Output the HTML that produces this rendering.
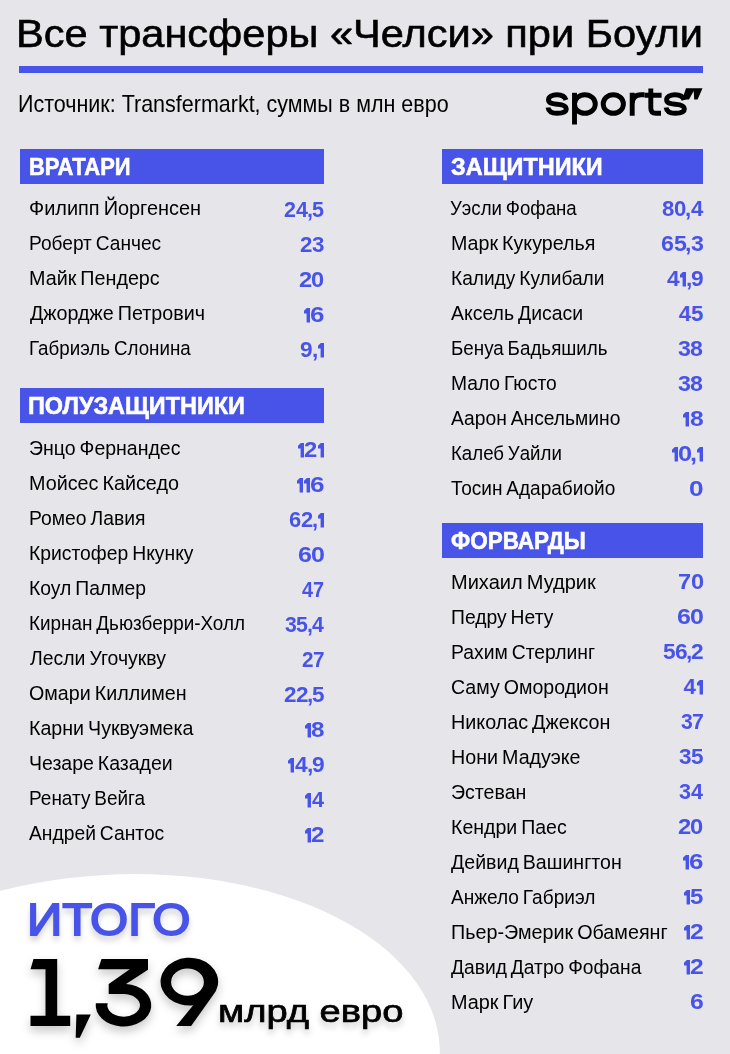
<!DOCTYPE html>
<html><head><meta charset="utf-8"><style>
html,body{margin:0;padding:0;background:#e5e5ea;}
body{width:730px;height:1054px;position:relative;overflow:hidden;background:#e5e5ea;font-family:"Liberation Sans",sans-serif;}
.t{position:absolute;white-space:nowrap;line-height:1;transform-origin:0 0;}
.o{position:absolute;}
</style></head><body>
<svg style="position:absolute;left:0;top:0" width="730" height="1054"><ellipse cx="0" cy="0" rx="327.3" ry="191" fill="#fff" transform="translate(112.9,1065.8) rotate(-3.48)"/></svg>
<div class="t" style="left:15.95px;top:14.60px;font-size:38.5px;font-weight:400;color:#000;transform:scaleX(1.0793);-webkit-text-stroke:0.6px #000;">Все трансферы «Челси» при Боули</div>
<div style="position:absolute;left:19px;top:66px;width:684px;height:7px;background:#4854e8"></div>
<div class="t" style="left:18.21px;top:91.68px;font-size:24px;font-weight:400;color:#000;transform:scaleX(0.8954);">Источник: Transfermarkt, суммы в млн евро</div>
<div style="position:absolute;left:20px;top:149px;width:304px;height:35px;background:#4854e8"></div>
<div class="t" style="left:29.04px;top:154.68px;font-size:24px;font-weight:700;color:#fff;transform:scaleX(0.9148);-webkit-text-stroke:0.6px #fff;">ВРАТАРИ</div>
<div style="position:absolute;left:20px;top:388px;width:304px;height:35px;background:#4854e8"></div>
<div class="t" style="left:28.44px;top:393.68px;font-size:24px;font-weight:700;color:#fff;transform:scaleX(0.9754);-webkit-text-stroke:0.6px #fff;">ПОЛУЗАЩИТНИКИ</div>
<div style="position:absolute;left:442px;top:149px;width:261px;height:35px;background:#4854e8"></div>
<div class="t" style="left:450.51px;top:154.68px;font-size:24px;font-weight:700;color:#fff;transform:scaleX(0.9771);-webkit-text-stroke:0.6px #fff;">ЗАЩИТНИКИ</div>
<div style="position:absolute;left:442px;top:523px;width:261px;height:35px;background:#4854e8"></div>
<div class="t" style="left:451.05px;top:528.68px;font-size:24px;font-weight:700;color:#fff;transform:scaleX(0.9370);-webkit-text-stroke:0.6px #fff;">ФОРВАРДЫ</div>
<div class="t" style="left:28.53px;top:197.69px;font-size:20.5px;font-weight:400;color:#000;transform:scaleX(0.9713);word-spacing:-1.5px;">Филипп Йоргенсен</div>
<div class="t" style="left:284.22px;top:199.07px;font-size:22px;font-weight:700;color:#4854e8;transform:scaleX(0.9753);">2</div>
<div class="t" style="left:296.05px;top:199.07px;font-size:22px;font-weight:700;color:#4854e8;transform:scaleX(0.9753);">4</div>
<div class="t" style="left:307.38px;top:199.07px;font-size:22px;font-weight:700;color:#4854e8;transform:scaleX(0.9753);">,</div>
<div class="t" style="left:312.29px;top:199.07px;font-size:22px;font-weight:700;color:#4854e8;transform:scaleX(0.9753);">5</div>
<div class="t" style="left:28.81px;top:232.69px;font-size:20.5px;font-weight:400;color:#000;transform:scaleX(0.9326);word-spacing:-1.5px;">Роберт Санчес</div>
<div class="t" style="left:299.99px;top:234.07px;font-size:22px;font-weight:700;color:#4854e8;transform:scaleX(1.0140);">2</div>
<div class="t" style="left:312.04px;top:234.07px;font-size:22px;font-weight:700;color:#4854e8;transform:scaleX(1.0140);">3</div>
<div class="t" style="left:28.76px;top:267.69px;font-size:20.5px;font-weight:400;color:#000;transform:scaleX(0.9625);word-spacing:-1.5px;">Майк Пендерс</div>
<div class="t" style="left:299.14px;top:269.07px;font-size:22px;font-weight:700;color:#4854e8;transform:scaleX(1.0762);">2</div>
<div class="t" style="left:311.44px;top:269.07px;font-size:22px;font-weight:700;color:#4854e8;transform:scaleX(1.0762);">0</div>
<div class="t" style="left:29.50px;top:302.69px;font-size:20.5px;font-weight:400;color:#000;transform:scaleX(0.9623);word-spacing:-1.5px;">Джордже Петрович</div>
<svg class="o" style="left:304.00px;top:308.10px" width="6.1" height="14.6" viewBox="0 0 6.1 14.6"><path d="M0 2.8L2.8 0H6.1V14.6H2.6V5.6H0Z" fill="#4854e8"/></svg>
<div class="t" style="left:310.16px;top:304.07px;font-size:22px;font-weight:700;color:#4854e8;transform:scaleX(1.1792);">6</div>
<div class="t" style="left:28.84px;top:337.69px;font-size:20.5px;font-weight:400;color:#000;transform:scaleX(0.9154);word-spacing:-1.5px;">Габриэль Слонина</div>
<div class="t" style="left:300.48px;top:339.07px;font-size:22px;font-weight:700;color:#4854e8;transform:scaleX(1.0290);">9</div>
<div class="t" style="left:311.66px;top:339.07px;font-size:22px;font-weight:700;color:#4854e8;transform:scaleX(1.0290);">,</div>
<svg class="o" style="left:317.50px;top:343.10px" width="6.1" height="14.6" viewBox="0 0 6.1 14.6"><path d="M0 2.8L2.8 0H6.1V14.6H2.6V5.6H0Z" fill="#4854e8"/></svg>
<div class="t" style="left:29.05px;top:437.69px;font-size:20.5px;font-weight:400;color:#000;transform:scaleX(0.9511);word-spacing:-1.5px;">Энцо Фернандес</div>
<svg class="o" style="left:297.90px;top:443.10px" width="6.1" height="14.6" viewBox="0 0 6.1 14.6"><path d="M0 2.8L2.8 0H6.1V14.6H2.6V5.6H0Z" fill="#4854e8"/></svg>
<div class="t" style="left:304.13px;top:439.07px;font-size:22px;font-weight:700;color:#4854e8;transform:scaleX(1.0849);">2</div>
<svg class="o" style="left:317.50px;top:443.10px" width="6.1" height="14.6" viewBox="0 0 6.1 14.6"><path d="M0 2.8L2.8 0H6.1V14.6H2.6V5.6H0Z" fill="#4854e8"/></svg>
<div class="t" style="left:28.76px;top:472.69px;font-size:20.5px;font-weight:400;color:#000;transform:scaleX(0.9634);word-spacing:-1.5px;">Мойсес Кайседо</div>
<svg class="o" style="left:296.80px;top:478.10px" width="6.1" height="14.6" viewBox="0 0 6.1 14.6"><path d="M0 2.8L2.8 0H6.1V14.6H2.6V5.6H0Z" fill="#4854e8"/></svg>
<svg class="o" style="left:303.90px;top:478.10px" width="6.1" height="14.6" viewBox="0 0 6.1 14.6"><path d="M0 2.8L2.8 0H6.1V14.6H2.6V5.6H0Z" fill="#4854e8"/></svg>
<div class="t" style="left:310.05px;top:474.07px;font-size:22px;font-weight:700;color:#4854e8;transform:scaleX(1.1887);">6</div>
<div class="t" style="left:28.80px;top:507.69px;font-size:20.5px;font-weight:400;color:#000;transform:scaleX(0.9427);word-spacing:-1.5px;">Ромео Лавия</div>
<div class="t" style="left:289.40px;top:509.07px;font-size:22px;font-weight:700;color:#4854e8;transform:scaleX(0.9959);">6</div>
<div class="t" style="left:300.96px;top:509.07px;font-size:22px;font-weight:700;color:#4854e8;transform:scaleX(0.9959);">2</div>
<div class="t" style="left:311.82px;top:509.07px;font-size:22px;font-weight:700;color:#4854e8;transform:scaleX(0.9959);">,</div>
<svg class="o" style="left:317.50px;top:513.10px" width="6.1" height="14.6" viewBox="0 0 6.1 14.6"><path d="M0 2.8L2.8 0H6.1V14.6H2.6V5.6H0Z" fill="#4854e8"/></svg>
<div class="t" style="left:28.80px;top:542.69px;font-size:20.5px;font-weight:400;color:#000;transform:scaleX(0.9427);word-spacing:-1.5px;">Кристофер Нкунку</div>
<div class="t" style="left:297.79px;top:544.07px;font-size:22px;font-weight:700;color:#4854e8;transform:scaleX(1.1381);">6</div>
<div class="t" style="left:310.74px;top:544.07px;font-size:22px;font-weight:700;color:#4854e8;transform:scaleX(1.1381);">0</div>
<div class="t" style="left:28.80px;top:577.69px;font-size:20.5px;font-weight:400;color:#000;transform:scaleX(0.9424);word-spacing:-1.5px;">Коул Палмер</div>
<div class="t" style="left:302.33px;top:579.07px;font-size:22px;font-weight:700;color:#4854e8;transform:scaleX(0.9009);">4</div>
<div class="t" style="left:313.42px;top:579.07px;font-size:22px;font-weight:700;color:#4854e8;transform:scaleX(0.9009);">7</div>
<div class="t" style="left:28.83px;top:612.69px;font-size:20.5px;font-weight:400;color:#000;transform:scaleX(0.9213);word-spacing:-1.5px;">Кирнан Дьюзберри-Холл</div>
<div class="t" style="left:284.62px;top:614.07px;font-size:22px;font-weight:700;color:#4854e8;transform:scaleX(0.9647);">3</div>
<div class="t" style="left:295.94px;top:614.07px;font-size:22px;font-weight:700;color:#4854e8;transform:scaleX(0.9647);">5</div>
<div class="t" style="left:306.68px;top:614.07px;font-size:22px;font-weight:700;color:#4854e8;transform:scaleX(0.9647);">,</div>
<div class="t" style="left:311.93px;top:614.07px;font-size:22px;font-weight:700;color:#4854e8;transform:scaleX(0.9647);">4</div>
<div class="t" style="left:30.21px;top:647.69px;font-size:20.5px;font-weight:400;color:#000;transform:scaleX(0.9476);word-spacing:-1.5px;">Лесли Угочукву</div>
<div class="t" style="left:302.15px;top:649.07px;font-size:22px;font-weight:700;color:#4854e8;transform:scaleX(0.9381);">2</div>
<div class="t" style="left:313.00px;top:649.07px;font-size:22px;font-weight:700;color:#4854e8;transform:scaleX(0.9381);">7</div>
<div class="t" style="left:29.44px;top:682.69px;font-size:20.5px;font-weight:400;color:#000;transform:scaleX(0.9604);word-spacing:-1.5px;">Омари Киллимен</div>
<div class="t" style="left:283.78px;top:684.07px;font-size:22px;font-weight:700;color:#4854e8;transform:scaleX(1.0198);">2</div>
<div class="t" style="left:295.59px;top:684.07px;font-size:22px;font-weight:700;color:#4854e8;transform:scaleX(1.0198);">2</div>
<div class="t" style="left:306.69px;top:684.07px;font-size:22px;font-weight:700;color:#4854e8;transform:scaleX(1.0198);">,</div>
<div class="t" style="left:311.77px;top:684.07px;font-size:22px;font-weight:700;color:#4854e8;transform:scaleX(1.0198);">5</div>
<div class="t" style="left:28.77px;top:717.69px;font-size:20.5px;font-weight:400;color:#000;transform:scaleX(0.9571);word-spacing:-1.5px;">Карни Чуквуэмека</div>
<svg class="o" style="left:304.50px;top:723.10px" width="6.1" height="14.6" viewBox="0 0 6.1 14.6"><path d="M0 2.8L2.8 0H6.1V14.6H2.6V5.6H0Z" fill="#4854e8"/></svg>
<div class="t" style="left:310.83px;top:719.07px;font-size:22px;font-weight:700;color:#4854e8;transform:scaleX(1.1009);">8</div>
<div class="t" style="left:28.88px;top:752.69px;font-size:20.5px;font-weight:400;color:#000;transform:scaleX(0.9507);word-spacing:-1.5px;">Чезаре Казадеи</div>
<svg class="o" style="left:288.00px;top:758.10px" width="6.1" height="14.6" viewBox="0 0 6.1 14.6"><path d="M0 2.8L2.8 0H6.1V14.6H2.6V5.6H0Z" fill="#4854e8"/></svg>
<div class="t" style="left:294.79px;top:754.07px;font-size:22px;font-weight:700;color:#4854e8;transform:scaleX(1.0352);">4</div>
<div class="t" style="left:306.76px;top:754.07px;font-size:22px;font-weight:700;color:#4854e8;transform:scaleX(1.0352);">,</div>
<div class="t" style="left:311.80px;top:754.07px;font-size:22px;font-weight:700;color:#4854e8;transform:scaleX(1.0352);">9</div>
<div class="t" style="left:28.83px;top:787.69px;font-size:20.5px;font-weight:400;color:#000;transform:scaleX(0.9257);word-spacing:-1.5px;">Ренату Вейга</div>
<svg class="o" style="left:304.90px;top:793.10px" width="6.1" height="14.6" viewBox="0 0 6.1 14.6"><path d="M0 2.8L2.8 0H6.1V14.6H2.6V5.6H0Z" fill="#4854e8"/></svg>
<div class="t" style="left:311.71px;top:789.07px;font-size:22px;font-weight:700;color:#4854e8;transform:scaleX(0.9831);">4</div>
<div class="t" style="left:29.11px;top:822.69px;font-size:20.5px;font-weight:400;color:#000;transform:scaleX(0.9393);word-spacing:-1.5px;">Андрей Сантос</div>
<svg class="o" style="left:304.90px;top:828.10px" width="6.1" height="14.6" viewBox="0 0 6.1 14.6"><path d="M0 2.8L2.8 0H6.1V14.6H2.6V5.6H0Z" fill="#4854e8"/></svg>
<div class="t" style="left:311.12px;top:824.07px;font-size:22px;font-weight:700;color:#4854e8;transform:scaleX(1.0943);">2</div>
<div class="t" style="left:450.15px;top:197.69px;font-size:20.5px;font-weight:400;color:#000;transform:scaleX(0.9092);word-spacing:-1.5px;">Уэсли Фофана</div>
<div class="t" style="left:662.39px;top:198.07px;font-size:22px;font-weight:700;color:#4854e8;transform:scaleX(1.0083);">8</div>
<div class="t" style="left:674.18px;top:198.07px;font-size:22px;font-weight:700;color:#4854e8;transform:scaleX(1.0083);">0</div>
<div class="t" style="left:685.06px;top:198.07px;font-size:22px;font-weight:700;color:#4854e8;transform:scaleX(1.0083);">,</div>
<div class="t" style="left:690.50px;top:198.07px;font-size:22px;font-weight:700;color:#4854e8;transform:scaleX(1.0083);">4</div>
<div class="t" style="left:450.57px;top:232.69px;font-size:20.5px;font-weight:400;color:#000;transform:scaleX(0.9586);word-spacing:-1.5px;">Марк Кукурелья</div>
<div class="t" style="left:661.36px;top:233.07px;font-size:22px;font-weight:700;color:#4854e8;transform:scaleX(1.0534);">6</div>
<div class="t" style="left:673.63px;top:233.07px;font-size:22px;font-weight:700;color:#4854e8;transform:scaleX(1.0534);">5</div>
<div class="t" style="left:685.27px;top:233.07px;font-size:22px;font-weight:700;color:#4854e8;transform:scaleX(1.0534);">,</div>
<div class="t" style="left:690.69px;top:233.07px;font-size:22px;font-weight:700;color:#4854e8;transform:scaleX(1.0534);">3</div>
<div class="t" style="left:450.61px;top:267.69px;font-size:20.5px;font-weight:400;color:#000;transform:scaleX(0.9330);word-spacing:-1.5px;">Калиду Кулибали</div>
<div class="t" style="left:666.89px;top:268.07px;font-size:22px;font-weight:700;color:#4854e8;transform:scaleX(1.0312);">4</div>
<svg class="o" style="left:680.37px;top:272.10px" width="6.1" height="14.6" viewBox="0 0 6.1 14.6"><path d="M0 2.8L2.8 0H6.1V14.6H2.6V5.6H0Z" fill="#4854e8"/></svg>
<div class="t" style="left:685.92px;top:268.07px;font-size:22px;font-weight:700;color:#4854e8;transform:scaleX(1.0312);">,</div>
<div class="t" style="left:690.94px;top:268.07px;font-size:22px;font-weight:700;color:#4854e8;transform:scaleX(1.0312);">9</div>
<div class="t" style="left:450.91px;top:302.69px;font-size:20.5px;font-weight:400;color:#000;transform:scaleX(0.9478);word-spacing:-1.5px;">Аксель Дисаси</div>
<div class="t" style="left:678.70px;top:303.07px;font-size:22px;font-weight:700;color:#4854e8;transform:scaleX(1.0000);">4</div>
<div class="t" style="left:691.10px;top:303.07px;font-size:22px;font-weight:700;color:#4854e8;transform:scaleX(1.0000);">5</div>
<div class="t" style="left:450.64px;top:337.69px;font-size:20.5px;font-weight:400;color:#000;transform:scaleX(0.9162);word-spacing:-1.5px;">Бенуа Бадьяшиль</div>
<div class="t" style="left:678.17px;top:338.07px;font-size:22px;font-weight:700;color:#4854e8;transform:scaleX(1.0550);">3</div>
<div class="t" style="left:690.46px;top:338.07px;font-size:22px;font-weight:700;color:#4854e8;transform:scaleX(1.0550);">8</div>
<div class="t" style="left:450.61px;top:372.69px;font-size:20.5px;font-weight:400;color:#000;transform:scaleX(0.9382);word-spacing:-1.5px;">Мало Гюсто</div>
<div class="t" style="left:678.17px;top:373.07px;font-size:22px;font-weight:700;color:#4854e8;transform:scaleX(1.0550);">3</div>
<div class="t" style="left:690.46px;top:373.07px;font-size:22px;font-weight:700;color:#4854e8;transform:scaleX(1.0550);">8</div>
<div class="t" style="left:450.91px;top:407.69px;font-size:20.5px;font-weight:400;color:#000;transform:scaleX(0.9382);word-spacing:-1.5px;">Аарон Ансельмино</div>
<svg class="o" style="left:683.40px;top:412.10px" width="6.1" height="14.6" viewBox="0 0 6.1 14.6"><path d="M0 2.8L2.8 0H6.1V14.6H2.6V5.6H0Z" fill="#4854e8"/></svg>
<div class="t" style="left:689.72px;top:408.07px;font-size:22px;font-weight:700;color:#4854e8;transform:scaleX(1.1193);">8</div>
<div class="t" style="left:450.65px;top:442.69px;font-size:20.5px;font-weight:400;color:#000;transform:scaleX(0.9106);word-spacing:-1.5px;">Калеб Уайли</div>
<svg class="o" style="left:671.80px;top:447.10px" width="6.1" height="14.6" viewBox="0 0 6.1 14.6"><path d="M0 2.8L2.8 0H6.1V14.6H2.6V5.6H0Z" fill="#4854e8"/></svg>
<div class="t" style="left:677.86px;top:443.07px;font-size:22px;font-weight:700;color:#4854e8;transform:scaleX(1.1544);">0</div>
<div class="t" style="left:690.17px;top:443.07px;font-size:22px;font-weight:700;color:#4854e8;transform:scaleX(1.1544);">,</div>
<svg class="o" style="left:696.60px;top:447.10px" width="6.1" height="14.6" viewBox="0 0 6.1 14.6"><path d="M0 2.8L2.8 0H6.1V14.6H2.6V5.6H0Z" fill="#4854e8"/></svg>
<div class="t" style="left:451.24px;top:477.69px;font-size:20.5px;font-weight:400;color:#000;transform:scaleX(0.9287);word-spacing:-1.5px;">Тосин Адарабиойо</div>
<div class="t" style="left:689.23px;top:478.07px;font-size:22px;font-weight:700;color:#4854e8;transform:scaleX(1.1923);">0</div>
<div class="t" style="left:450.54px;top:571.59px;font-size:20.5px;font-weight:400;color:#000;transform:scaleX(0.9768);word-spacing:-1.5px;">Михаил Мудрик</div>
<div class="t" style="left:678.44px;top:571.17px;font-size:22px;font-weight:700;color:#4854e8;transform:scaleX(1.0721);">7</div>
<div class="t" style="left:690.59px;top:571.17px;font-size:22px;font-weight:700;color:#4854e8;transform:scaleX(1.0721);">0</div>
<div class="t" style="left:450.60px;top:606.59px;font-size:20.5px;font-weight:400;color:#000;transform:scaleX(0.9420);word-spacing:-1.5px;">Педру Нету</div>
<div class="t" style="left:676.99px;top:606.17px;font-size:22px;font-weight:700;color:#4854e8;transform:scaleX(1.1333);">6</div>
<div class="t" style="left:689.89px;top:606.17px;font-size:22px;font-weight:700;color:#4854e8;transform:scaleX(1.1333);">0</div>
<div class="t" style="left:450.60px;top:641.59px;font-size:20.5px;font-weight:400;color:#000;transform:scaleX(0.9428);word-spacing:-1.5px;">Рахим Стерлинг</div>
<div class="t" style="left:662.58px;top:641.17px;font-size:22px;font-weight:700;color:#4854e8;transform:scaleX(1.0312);">5</div>
<div class="t" style="left:674.71px;top:641.17px;font-size:22px;font-weight:700;color:#4854e8;transform:scaleX(1.0312);">6</div>
<div class="t" style="left:685.92px;top:641.17px;font-size:22px;font-weight:700;color:#4854e8;transform:scaleX(1.0312);">,</div>
<div class="t" style="left:690.94px;top:641.17px;font-size:22px;font-weight:700;color:#4854e8;transform:scaleX(1.0312);">2</div>
<div class="t" style="left:450.94px;top:676.59px;font-size:20.5px;font-weight:400;color:#000;transform:scaleX(0.9551);word-spacing:-1.5px;">Саму Омородион</div>
<div class="t" style="left:683.50px;top:676.17px;font-size:22px;font-weight:700;color:#4854e8;transform:scaleX(1.0000);">4</div>
<svg class="o" style="left:696.60px;top:680.20px" width="6.1" height="14.6" viewBox="0 0 6.1 14.6"><path d="M0 2.8L2.8 0H6.1V14.6H2.6V5.6H0Z" fill="#4854e8"/></svg>
<div class="t" style="left:450.56px;top:711.59px;font-size:20.5px;font-weight:400;color:#000;transform:scaleX(0.9631);word-spacing:-1.5px;">Николас Джексон</div>
<div class="t" style="left:680.72px;top:711.17px;font-size:22px;font-weight:700;color:#4854e8;transform:scaleX(0.9624);">3</div>
<div class="t" style="left:691.82px;top:711.17px;font-size:22px;font-weight:700;color:#4854e8;transform:scaleX(0.9624);">7</div>
<div class="t" style="left:450.57px;top:746.59px;font-size:20.5px;font-weight:400;color:#000;transform:scaleX(0.9599);word-spacing:-1.5px;">Нони Мадуэке</div>
<div class="t" style="left:678.89px;top:746.17px;font-size:22px;font-weight:700;color:#4854e8;transform:scaleX(1.0229);">3</div>
<div class="t" style="left:690.83px;top:746.17px;font-size:22px;font-weight:700;color:#4854e8;transform:scaleX(1.0229);">5</div>
<div class="t" style="left:450.85px;top:781.59px;font-size:20.5px;font-weight:400;color:#000;transform:scaleX(0.9542);word-spacing:-1.5px;">Эстеван</div>
<div class="t" style="left:678.91px;top:781.17px;font-size:22px;font-weight:700;color:#4854e8;transform:scaleX(0.9824);">3</div>
<div class="t" style="left:690.81px;top:781.17px;font-size:22px;font-weight:700;color:#4854e8;transform:scaleX(0.9824);">4</div>
<div class="t" style="left:450.58px;top:816.59px;font-size:20.5px;font-weight:400;color:#000;transform:scaleX(0.9530);word-spacing:-1.5px;">Кендри Паес</div>
<div class="t" style="left:678.14px;top:816.17px;font-size:22px;font-weight:700;color:#4854e8;transform:scaleX(1.0810);">2</div>
<div class="t" style="left:690.49px;top:816.17px;font-size:22px;font-weight:700;color:#4854e8;transform:scaleX(1.0810);">0</div>
<div class="t" style="left:451.30px;top:851.59px;font-size:20.5px;font-weight:400;color:#000;transform:scaleX(0.9543);word-spacing:-1.5px;">Дейвид Вашингтон</div>
<svg class="o" style="left:683.10px;top:855.20px" width="6.1" height="14.6" viewBox="0 0 6.1 14.6"><path d="M0 2.8L2.8 0H6.1V14.6H2.6V5.6H0Z" fill="#4854e8"/></svg>
<div class="t" style="left:689.26px;top:851.17px;font-size:22px;font-weight:700;color:#4854e8;transform:scaleX(1.1792);">6</div>
<div class="t" style="left:450.91px;top:886.59px;font-size:20.5px;font-weight:400;color:#000;transform:scaleX(0.9304);word-spacing:-1.5px;">Анжело Габриэл</div>
<svg class="o" style="left:683.75px;top:890.20px" width="6.1" height="14.6" viewBox="0 0 6.1 14.6"><path d="M0 2.8L2.8 0H6.1V14.6H2.6V5.6H0Z" fill="#4854e8"/></svg>
<div class="t" style="left:690.09px;top:886.17px;font-size:22px;font-weight:700;color:#4854e8;transform:scaleX(1.0872);">5</div>
<div class="t" style="left:450.56px;top:921.59px;font-size:20.5px;font-weight:400;color:#000;transform:scaleX(0.9627);word-spacing:-1.5px;">Пьер-Эмерик Обамеянг</div>
<svg class="o" style="left:683.75px;top:925.20px" width="6.1" height="14.6" viewBox="0 0 6.1 14.6"><path d="M0 2.8L2.8 0H6.1V14.6H2.6V5.6H0Z" fill="#4854e8"/></svg>
<div class="t" style="left:689.96px;top:921.17px;font-size:22px;font-weight:700;color:#4854e8;transform:scaleX(1.1179);">2</div>
<div class="t" style="left:451.31px;top:956.59px;font-size:20.5px;font-weight:400;color:#000;transform:scaleX(0.9379);word-spacing:-1.5px;">Давид Датро Фофана</div>
<svg class="o" style="left:683.75px;top:960.20px" width="6.1" height="14.6" viewBox="0 0 6.1 14.6"><path d="M0 2.8L2.8 0H6.1V14.6H2.6V5.6H0Z" fill="#4854e8"/></svg>
<div class="t" style="left:689.96px;top:956.17px;font-size:22px;font-weight:700;color:#4854e8;transform:scaleX(1.1179);">2</div>
<div class="t" style="left:450.55px;top:991.59px;font-size:20.5px;font-weight:400;color:#000;transform:scaleX(0.9687);word-spacing:-1.5px;">Марк Гиу</div>
<div class="t" style="left:689.90px;top:991.17px;font-size:22px;font-weight:700;color:#4854e8;transform:scaleX(1.1226);">6</div>
<div class="t" style="left:26.86px;top:896.90px;font-size:45px;font-weight:400;color:#4854e8;transform:scaleX(1.0917);text-shadow:0 5px 6px rgba(0,0,0,0.24);-webkit-text-stroke:1.8px #4854e8;">ИТОГО</div>
<svg style="position:absolute;left:0;top:0;filter:drop-shadow(0 5px 5px rgba(0,0,0,0.22))" width="730" height="1054"><g fill="#000" fill-rule="evenodd">
<path d="M33.5 958.9 L57.2 958.9 L57.2 1015.8 L70.2 1015.8 L70.2 1026 L30.5 1026 L30.5 1015.8 L45.5 1015.8 L45.5 969.2 L30.5 969.2 Z"/>
<path d="M76.4 1014.4 L90.8 1014.4 L79.8 1037.7 L75.7 1037.7 Z"/>
<path d="M101.5 959.1 L148 959.1 L148 969.7 L126 984 A27.8 21.3 0 1 1 95.8 1003.2 L107.7 1003.2 A16.3 11.3 0 1 0 123.6 994.1 L108.7 994.1 L108.7 984 L129.8 969.2 L98.1 969.2 Z"/>
<path d="M176.2 1026 L193.2 1005.3 A28.8 23.9 0 1 1 212.8 995.5 L191.1 1026 Z M187.5 968.5 A16.4 13.6 0 1 0 187.5 995.7 A16.4 13.6 0 1 0 187.5 968.5 Z"/>
</g></svg>
<div class="t" style="left:217.72px;top:995.75px;font-size:31px;font-weight:400;color:#000;transform:scaleX(1.2293);text-shadow:0 5px 6px rgba(0,0,0,0.24);-webkit-text-stroke:0.7px #000;">млрд евро</div>
<svg style="position:absolute;left:0;top:0" width="730" height="1054"><g fill="none" stroke="#000" stroke-width="4.9">
<path id="s1" d="M566 100 C565 96.5 561.5 94.7 557 94.7 C552 94.7 548.5 96.8 548.5 99.8 C548.5 103 551.5 103.8 557 104.3 C563 104.8 566.3 105.8 566.3 109 C566.3 111.8 562.5 113.3 557 113.3 C551.5 113.3 548.5 111 548 107.5"/>
<path d="M574.5 92.8 L574.5 124.5"/>
<ellipse cx="584.9" cy="104" rx="10.4" ry="9.3"/>
<ellipse cx="613.3" cy="104" rx="10.1" ry="9.3"/>
<path d="M632.2 92.8 L632.2 115.8 M632.2 104 C632.2 97 636 94.7 641 94.7 L644.6 94.7"/>
<path d="M650.8 88.4 L650.8 108 C650.8 112 653 113.3 656 113.3 L661 113.3 M644.6 95.2 L661.6 95.2"/>
<path transform="translate(118.1 0)" d="M566 100 C565 96.5 561.5 94.7 557 94.7 C552 94.7 548.5 96.8 548.5 99.8 C548.5 103 551.5 103.8 557 104.3 C563 104.8 566.3 105.8 566.3 109 C566.3 111.8 562.5 113.3 557 113.3 C551.5 113.3 548.5 111 548 107.5"/>
</g><polygon points="686,88.2 702.5,88.2 697.6,99.5 694.2,99.5 693.7,90.9 689,99.5 682.1,99.5" fill="#000"/></svg>
</body></html>
